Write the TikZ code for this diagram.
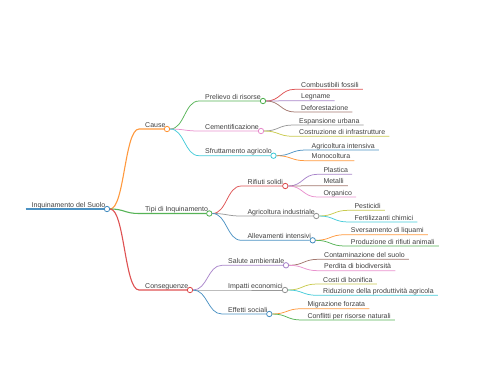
\documentclass[tikz,border=0pt]{standalone}
\usepackage{fontspec}
\setmainfont{Liberation Sans}
\usepackage{tikz}
\usetikzlibrary{calc}

\definecolor{mmblue}{HTML}{1F77B4}
\definecolor{mmorange}{HTML}{FF7F0E}
\definecolor{mmgreen}{HTML}{2CA02C}
\definecolor{mmred}{HTML}{D62728}
\definecolor{mmpurple}{HTML}{9467BD}
\definecolor{mmbrown}{HTML}{8C564B}
\definecolor{mmpink}{HTML}{E377C2}
\definecolor{mmgray}{HTML}{7F7F7F}
\definecolor{mmolive}{HTML}{BCBD22}
\definecolor{mmcyan}{HTML}{17BECF}
\definecolor{txtgray}{HTML}{404040}

\begin{document}
\begin{tikzpicture}[
    x=1pt, y=-1pt,
    topic/.style={inner sep=0pt, anchor=base west, xshift=6pt, yshift=2pt, text=txtgray, font=\fontsize{7pt}{8pt}\selectfont},
    knob/.style={circle, draw=#1!85, fill=white, line width=0.8pt, minimum size=5.4pt, inner sep=0pt},
    wire/.style={draw=#1!80, line width=0.75pt},
    branch/.style={to path={let \p1=(\tikztostart), \p2=(\tikztotarget) in .. controls ({(\x1+\x2)/2},\y1) and ({(\x1+\x2)/2},\y2) .. (\tikztotarget)}}
]
\useasboundingbox (0,0) rectangle (480,384);

% Root
\coordinate (rootL) at (25.5,209);
\node[topic] (root) at (rootL) {Inquinamento del Suolo};
\node[knob=mmblue] (rootC) at (107,209) {};
\draw[wire=mmblue, line width=1.5pt] (rootL) -- (rootC);

% Level 1
\coordinate (causeL) at (139,129);
\node[topic] (cause) at (causeL) {Cause};
\node[knob=mmorange] (causeC) at (167,129) {};
\draw[wire=mmorange, line width=1.1pt] (rootC.east) to[branch] (causeL) -- (causeC);

\coordinate (tipiL) at (139,213.5);
\node[topic] (tipi) at (tipiL) {Tipi di Inquinamento};
\node[knob=mmgreen] (tipiC) at (209.3,213.5) {};
\draw[wire=mmgreen, line width=1.1pt] (rootC.east) to[branch] (tipiL) -- (tipiC);

\coordinate (consL) at (139,290);
\node[topic] (cons) at (consL) {Conseguenze};
\node[knob=mmred] (consC) at (190,290) {};
\draw[wire=mmred, line width=1.1pt] (rootC.east) to[branch] (consL) -- (consC);

% Level 2 - Cause
\coordinate (prelL) at (199,101);
\node[topic] (prel) at (prelL) {Prelievo di risorse};
\node[knob=mmgreen] (prelC) at (263,101) {};
\draw[wire=mmgreen] (causeC.east) to[branch] (prelL) -- (prelC);

\coordinate (cemL) at (199,131);
\node[topic] (cem) at (cemL) {Cementificazione};
\node[knob=mmpink] (cemC) at (261,131) {};
\draw[wire=mmpink] (causeC.east) to[branch] (cemL) -- (cemC);

\coordinate (sfrutL) at (199,155.7);
\node[topic] (sfrut) at (sfrutL) {Sfruttamento agricolo};
\node[knob=mmcyan] (sfrutC) at (273.5,155.7) {};
\draw[wire=mmcyan] (causeC.east) to[branch] (sfrutL) -- (sfrutC);

% Level 2 - Tipi di Inquinamento
\coordinate (rifL) at (241.3,186);
\node[topic] (rif) at (rifL) {Rifiuti solidi};
\node[knob=mmred] (rifC) at (285.3,186) {};
\draw[wire=mmred] (tipiC.east) to[branch] (rifL) -- (rifC);

\coordinate (agriL) at (241.3,216);
\node[topic] (agri) at (agriL) {Agricoltura industriale};
\node[knob=mmgray] (agriC) at (316.3,216) {};
\draw[wire=mmgray] (tipiC.east) to[branch] (agriL) -- (agriC);

\coordinate (allevL) at (241.3,240.3);
\node[topic] (allev) at (allevL) {Allevamenti intensivi};
\node[knob=mmblue] (allevC) at (312.7,240.3) {};
\draw[wire=mmblue] (tipiC.east) to[branch] (allevL) -- (allevC);

% Level 2 - Conseguenze
\coordinate (salL) at (222,265.3);
\node[topic] (sal) at (salL) {Salute ambientale};
\node[knob=mmpurple] (salC) at (286,265.3) {};
\draw[wire=mmpurple] (consC.east) to[branch] (salL) -- (salC);

\coordinate (impL) at (222,290);
\node[topic] (imp) at (impL) {Impatti economici};
\node[knob=mmgray] (impC) at (285,290) {};
\draw[wire=mmgray] (consC.east) to[branch] (impL) -- (impC);

\coordinate (effL) at (222,314);
\node[topic] (eff) at (effL) {Effetti sociali};
\node[knob=mmblue] (effC) at (269.3,314) {};
\draw[wire=mmblue] (consC.east) to[branch] (effL) -- (effC);

% Leaves - Cause
\coordinate (combL) at (295,89.3);
\node[topic] (comb) at (combL) {Combustibili fossili};
\draw[wire=mmred] (prelC.east) to[branch] (combL) -- (comb.east |- combL) -- ++(4,0);
\coordinate (legL) at (295,100.7);
\node[topic] (leg) at (legL) {Legname};
\draw[wire=mmpurple] (prelC.east) to[branch] (legL) -- (leg.east |- legL) -- ++(4,0);
\coordinate (defoL) at (295,112);
\node[topic] (defo) at (defoL) {Deforestazione};
\draw[wire=mmbrown] (prelC.east) to[branch] (defoL) -- (defo.east |- defoL) -- ++(4,0);

\coordinate (espL) at (293,125);
\node[topic] (esp) at (espL) {Espansione urbana};
\draw[wire=mmgray] (cemC.east) to[branch] (espL) -- (esp.east |- espL) -- ++(4,0);
\coordinate (costrL) at (293,136.3);
\node[topic] (costr) at (costrL) {Costruzione di infrastrutture};
\draw[wire=mmolive] (cemC.east) to[branch] (costrL) -- (costr.east |- costrL) -- ++(4,0);

\coordinate (intL) at (305.5,150);
\node[topic] (int) at (intL) {Agricoltura intensiva};
\draw[wire=mmblue] (sfrutC.east) to[branch] (intL) -- (int.east |- intL) -- ++(4,0);
\coordinate (monoL) at (305.5,160.7);
\node[topic] (mono) at (monoL) {Monocoltura};
\draw[wire=mmorange] (sfrutC.east) to[branch] (monoL) -- (mono.east |- monoL) -- ++(4,0);

% Leaves - Tipi di Inquinamento
\coordinate (plastL) at (317.3,174.3);
\node[topic] (plast) at (plastL) {Plastica};
\draw[wire=mmpurple] (rifC.east) to[branch] (plastL) -- (plast.east |- plastL) -- ++(4,0);
\coordinate (metL) at (317.3,185.7);
\node[topic] (met) at (metL) {Metalli};
\draw[wire=mmbrown] (rifC.east) to[branch] (metL) -- (met.east |- metL) -- ++(4,0);
\coordinate (orgL) at (317.3,197);
\node[topic] (org) at (orgL) {Organico};
\draw[wire=mmpink] (rifC.east) to[branch] (orgL) -- (org.east |- orgL) -- ++(4,0);

\coordinate (pestL) at (348.3,210.3);
\node[topic] (pest) at (pestL) {Pesticidi};
\draw[wire=mmolive] (agriC.east) to[branch] (pestL) -- (pest.east |- pestL) -- ++(4,0);
\coordinate (fertL) at (348.3,222);
\node[topic] (fert) at (fertL) {Fertilizzanti chimici};
\draw[wire=mmcyan] (agriC.east) to[branch] (fertL) -- (fert.east |- fertL) -- ++(4,0);

\coordinate (sversL) at (344.7,234.7);
\node[topic] (svers) at (sversL) {Sversamento di liquami};
\draw[wire=mmorange] (allevC.east) to[branch] (sversL) -- (svers.east |- sversL) -- ++(4,0);
\coordinate (prodL) at (344.7,246);
\node[topic] (prod) at (prodL) {Produzione di rifiuti animali};
\draw[wire=mmgreen] (allevC.east) to[branch] (prodL) -- (prod.east |- prodL) -- ++(4,0);

% Leaves - Conseguenze
\coordinate (contL) at (318,259.3);
\node[topic] (cont) at (contL) {Contaminazione del suolo};
\draw[wire=mmbrown] (salC.east) to[branch] (contL) -- (cont.east |- contL) -- ++(4,0);
\coordinate (perdL) at (318,270.7);
\node[topic] (perd) at (perdL) {Perdita di biodiversità};
\draw[wire=mmpink] (salC.east) to[branch] (perdL) -- (perd.east |- perdL) -- ++(4,0);

\coordinate (costiL) at (317,284);
\node[topic] (costi) at (costiL) {Costi di bonifica};
\draw[wire=mmolive] (impC.east) to[branch] (costiL) -- (costi.east |- costiL) -- ++(4,0);
\coordinate (ridL) at (317,295.3);
\node[topic] (rid) at (ridL) {Riduzione della produttività agricola};
\draw[wire=mmcyan] (impC.east) to[branch] (ridL) -- (rid.east |- ridL) -- ++(4,0);

\coordinate (migrL) at (301.3,308.7);
\node[topic] (migr) at (migrL) {Migrazione forzata};
\draw[wire=mmorange] (effC.east) to[branch] (migrL) -- (migr.east |- migrL) -- ++(4,0);
\coordinate (conflL) at (301.3,320);
\node[topic] (confl) at (conflL) {Conflitti per risorse naturali};
\draw[wire=mmgreen] (effC.east) to[branch] (conflL) -- (confl.east |- conflL) -- ++(4,0);

\end{tikzpicture}
\end{document}
